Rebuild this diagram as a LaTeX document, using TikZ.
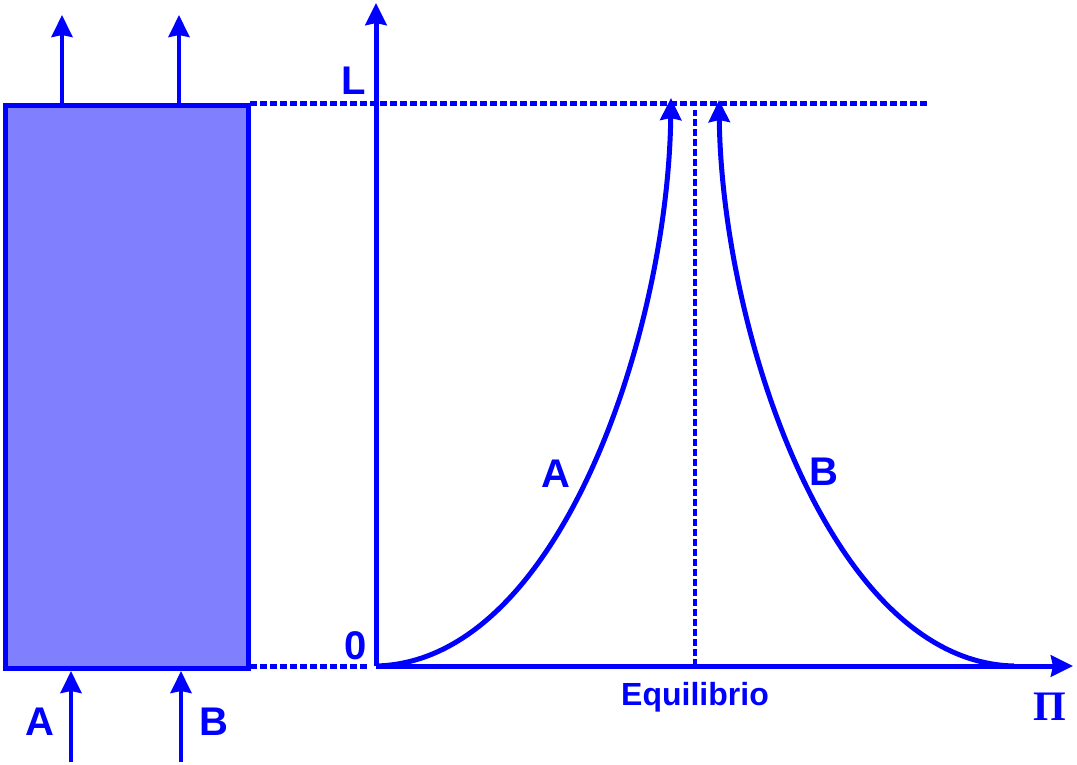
\documentclass[tikz,border=0pt]{standalone}
\usepackage{fontspec}
\setsansfont{Liberation Sans}
\newfontfamily\pifont{Liberation Serif}
\usetikzlibrary{arrows.meta}

\tikzset{
  flow/.style={line width=5pt, blue, -{Stealth[length=22pt, width=21pt, inset=2pt]}},
  guide/.style={line width=5pt, blue, dash pattern=on 7pt off 3pt},
  lbl/.style={text=blue, inner sep=0pt, font=\sffamily\bfseries\fontsize{40}{40}\selectfont}
}

\begin{document}
\begin{tikzpicture}[x=1pt, y=-1pt]
  \useasboundingbox (0,0) rectangle (1077,764);

  % column
  \node[draw=blue, line width=5pt, fill=blue!50, minimum width=243pt, minimum height=563pt,
        inner sep=0pt, anchor=north west] (col) at (3,103) {};

  \coordinate (outA) at (62,15);
  \coordinate (outB) at (179,15);
  \coordinate (inA) at (71,762);
  \coordinate (inB) at (181,762);
  \draw[flow, line width=4pt] (col.north west -| outA) -- (outA);
  \draw[flow, line width=4pt] (col.north west -| outB) -- (outB);
  \draw[flow, line width=4pt] (inA) -- (col.south west -| inA);
  \draw[flow, line width=4pt] (inB) -- (col.south west -| inB);
  \node[lbl] (feedA) at (40,722) {A};
  \node[lbl] (feedB) at (214,722) {B};

  % axes
  \coordinate (origin) at (376,666);
  \coordinate (ytop) at (376,3);
  \coordinate (xend) at (1073,666);
  \draw[flow] (origin) -- (ytop);
  \draw[flow] (origin) -- (xend);
  \node[lbl] (ltop) at (354,81) {L};
  \node[lbl] (zero) at (356,646) {0};
  \node[text=blue, inner sep=0pt, font=\pifont\bfseries\fontsize{42}{42}\selectfont] (pi) at (1050,707) {Π};

  % guides
  \coordinate (gtop) at (928,103);
  \draw[guide] (250,103) -- (gtop);
  \draw[guide] (250,666) -- (370,666);
  \coordinate (eq) at (695,666);
  \draw[guide, line width=4.5pt] (eq) -- (695,110);
  \node[lbl, font=\sffamily\bfseries\fontsize{32}{32}\selectfont, anchor=base] (eqlbl) at (695,705) {Equilibrio};

  % curves
  \draw[flow] (origin) .. controls (560,662) and (668,330) .. (671,98);
  \draw[flow] (1014,666) .. controls (830,662) and (722,330) .. (719,100);
  \node[lbl] (curveA) at (556,474) {A};
  \node[lbl] (curveB) at (824,472) {B};
\end{tikzpicture}
\end{document}
